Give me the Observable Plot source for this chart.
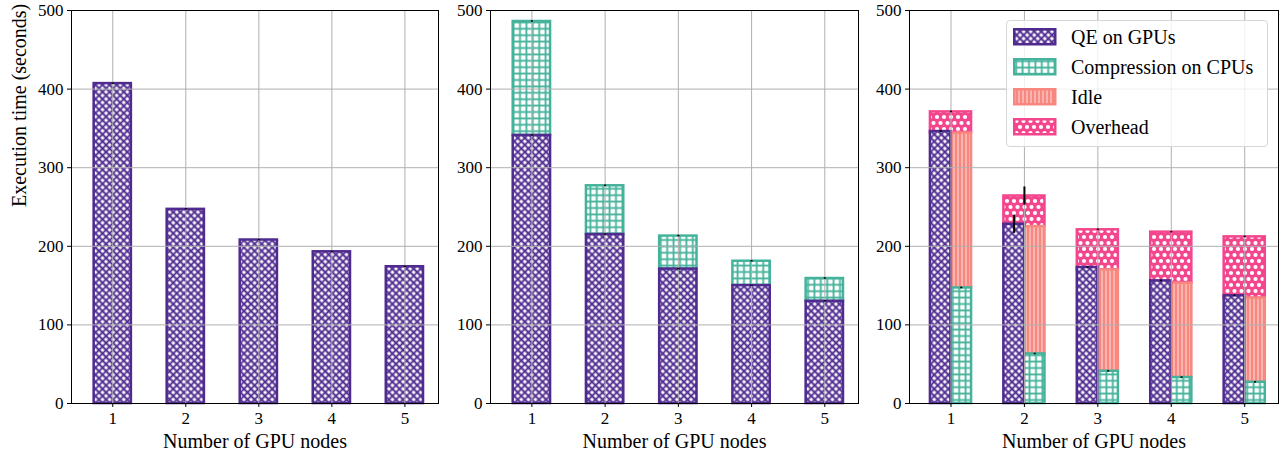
<!DOCTYPE html>
<html>
<head>
<meta charset="utf-8">
<script src="https://cdn.jsdelivr.net/npm/d3@7"></script>
<script src="https://cdn.jsdelivr.net/npm/@observablehq/plot@0.6"></script>
<style>
  body { margin: 0; background: #fff; }
  #wrap { position: relative; width: 1284px; height: 462px; display: flex; align-items: flex-start; }
  #wrap > svg { display: block; flex: none; font-family: "Liberation Serif", serif; }
  .legend {
    position: absolute; left: 1006px; top: 20px; width: 260px; height: 125px;
    border: 1px solid #d6d6d6; border-radius: 4px; background: rgba(255,255,255,0.8);
    font-family: "Liberation Serif", serif; font-size: 20px; color: #000;
  }
  .legend .row { position: absolute; left: 6px; height: 20px; display: flex; align-items: center; white-space: nowrap; }
  .legend .row svg { display: block; margin-right: 14px; }
</style>
</head>
<body>
<!-- hatch fills shared by every panel and the legend -->
<svg width="0" height="0" style="position:absolute">
  <defs>
    <pattern id="hatch-qe" width="5" height="5" patternUnits="userSpaceOnUse" patternTransform="rotate(45)">
      <rect width="5" height="5" fill="#fff"/>
      <path d="M0,2.5H5M2.5,0V5" stroke="#4f2a8f" stroke-width="1.8"/>
    </pattern>
    <pattern id="hatch-comp" width="6.4" height="6.4" patternUnits="userSpaceOnUse">
      <rect width="6.4" height="6.4" fill="#fff"/>
      <path d="M0,3.2H6.4M3.2,0V6.4" stroke="#45b39c" stroke-width="1.8"/>
    </pattern>
    <pattern id="hatch-idle" width="4" height="4" patternUnits="userSpaceOnUse">
      <rect width="4" height="4" fill="#f7877f"/>
      <path d="M2,0V4" stroke="#fff" stroke-width="1" stroke-opacity="0.75"/>
    </pattern>
    <pattern id="hatch-over" width="7" height="12" patternUnits="userSpaceOnUse">
      <rect width="7" height="12" fill="#f3468d"/>
      <circle cx="3.5" cy="3" r="2.1" fill="#fff"/>
      <circle cx="0" cy="9" r="2.1" fill="#fff"/>
      <circle cx="7" cy="9" r="2.1" fill="#fff"/>
    </pattern>
  </defs>
</svg>
<div id="wrap"></div>
<script>
// Number of GPU nodes on every x axis
const nodes = [1, 2, 3, 4, 5];
const yTicks = [0, 100, 200, 300, 400, 500];

// Panel 1: QE alone on GPUs
const qeAlone = [407, 247, 208, 193, 174];
const qeAloneErr = [1, 1, 1, 1, 1];

// Panel 2: QE on GPUs followed by compression on CPUs
const qeSerial = [341, 215, 171, 150, 130];
const compSerial = [145, 62, 42, 31, 29];
const qeSerialErr = [1, 1, 1, 1, 1];
const totalSerialErr = [1, 1, 1, 1, 1];

// Panel 3: QE on GPUs concurrent with compression on CPUs
const qeConc = [346, 228, 173, 156, 137];
const compConc = [147, 63, 41, 33, 27];
const idleConc = [197, 162, 129, 120, 107];
const overheadConc = [27, 39, 51, 65, 78];
const qeConcErr = [1, 11.5, 1, 1, 1];
const compConcErr = [1, 1, 1, 1, 1];
const totalConcErr = [1, 11.5, 1, 1, 1];

const legendLabels = ["QE on GPUs", "Compression on CPUs", "Idle", "Overhead"];
const xLabel = "Number of GPU nodes";
const yLabel = "Execution time (seconds)";

const FONT = '"Liberation Serif", serif';
const C = { qe: "#4f2a8f", comp: "#45b39c", idle: "#f7877f", over: "#f3468d" };
const F = { qe: "url(#hatch-qe)", comp: "url(#hatch-comp)", idle: "url(#hatch-idle)", over: "url(#hatch-over)" };
const SW = 2.5;

function base(width, ml, mr, marks, withYLabel) {
  return Plot.plot({
    width, height: 462,
    marginLeft: ml, marginRight: mr, marginTop: 10, marginBottom: 59,
    x: { domain: [0.435, 5.46] },
    y: { domain: [0, 500] },
    style: { fontFamily: FONT, fontSize: "17px", color: "#000", background: "#fff", overflow: "visible" },
    marks: [
      ...marks.bars,
      Plot.gridX(nodes, { stroke: "#b0b0b0", strokeOpacity: 1, strokeWidth: 1 }),
      Plot.gridY(yTicks, { stroke: "#b0b0b0", strokeOpacity: 1, strokeWidth: 1 }),
      ...marks.errors,
      Plot.axisX(nodes, { tickSize: 4, tickPadding: 4, label: null, tickFormat: d => String(d), fontFamily: FONT, fontSize: 17, fontVariant: "normal" }),
      Plot.axisY(yTicks, { tickSize: 4, tickPadding: 4, label: null, fontFamily: FONT, fontSize: 17, fontVariant: "normal" }),
      Plot.frame({ stroke: "#000", strokeWidth: 1 }),
      Plot.text([xLabel], { text: d => d, frameAnchor: "bottom", dy: 44, fontSize: 20, fontFamily: FONT }),
      ...(withYLabel ? [Plot.text([yLabel], { text: d => d, frameAnchor: "left", rotate: -90, dx: -52, fontSize: 20, fontFamily: FONT })] : [])
    ]
  });
}

const errRule = (data, x, lo, hi) =>
  Plot.ruleX(data, { x, y1: lo, y2: hi, stroke: "#000", strokeWidth: 2 });

// Panel 1
const hw = 0.255;
const rows1 = nodes.map((n, i) => ({ n, qe: qeAlone[i], e: qeAloneErr[i] }));
const p1 = base(440, 71, 2, {
  bars: [
    Plot.rectY(rows1, { x1: d => d.n - hw, x2: d => d.n + hw, y1: d => 0, y2: "qe", fill: F.qe, stroke: C.qe, strokeWidth: SW })
  ],
  errors: [errRule(rows1, "n", d => d.qe - d.e, d => d.qe + d.e)]
}, true);

// Panel 2
const rows2 = nodes.map((n, i) => ({ n, qe: qeSerial[i], comp: compSerial[i], eq: qeSerialErr[i], et: totalSerialErr[i] }));
const p2 = base(420, 50, 2, {
  bars: [
    Plot.rectY(rows2, { x1: d => d.n - hw, x2: d => d.n + hw, y1: "qe", y2: d => d.qe + d.comp, fill: F.comp, stroke: C.comp, strokeWidth: SW }),
    Plot.rectY(rows2, { x1: d => d.n - hw, x2: d => d.n + hw, y1: d => 0, y2: "qe", fill: F.qe, stroke: C.qe, strokeWidth: SW })
  ],
  errors: [
    errRule(rows2, "n", d => d.qe - d.eq, d => d.qe + d.eq),
    errRule(rows2, "n", d => d.qe + d.comp - d.et, d => d.qe + d.comp + d.et)
  ]
}, false);

// Panel 3: GPU bar on the left of each tick, CPU bar on the right, overhead across both
const w = 0.28;
const rows3 = nodes.map((n, i) => ({
  n, qe: qeConc[i], comp: compConc[i], idle: idleConc[i], over: overheadConc[i],
  eq: qeConcErr[i], ec: compConcErr[i], et: totalConcErr[i]
}));
const cpuTop = d => d.comp + d.idle;
const total = d => d.comp + d.idle + d.over;
const p3 = base(424, 49, 6, {
  bars: [
    Plot.rectY(rows3, { x1: d => d.n - w, x2: d => d.n + w, y1: cpuTop, y2: total, fill: F.over, stroke: C.over, strokeWidth: SW }),
    Plot.rectY(rows3, { x1: d => d.n, x2: d => d.n + w, y1: "comp", y2: cpuTop, fill: F.idle, stroke: C.idle, strokeWidth: SW }),
    Plot.rectY(rows3, { x1: d => d.n, x2: d => d.n + w, y1: d => 0, y2: "comp", fill: F.comp, stroke: C.comp, strokeWidth: SW }),
    Plot.rectY(rows3, { x1: d => d.n - w, x2: d => d.n, y1: d => 0, y2: "qe", fill: F.qe, stroke: C.qe, strokeWidth: SW })
  ],
  errors: [
    errRule(rows3, d => d.n - w / 2, d => d.qe - d.eq, d => d.qe + d.eq),
    errRule(rows3, d => d.n + w / 2, d => d.comp - d.ec, d => d.comp + d.ec),
    errRule(rows3, "n", d => total(d) - d.et, d => total(d) + d.et)
  ]
}, false);

const wrap = document.getElementById("wrap");
wrap.append(p1, p2, p3);

// Legend for the concurrent panel
const legend = document.createElement("div");
legend.className = "legend";
const keys = ["qe", "comp", "idle", "over"];
legendLabels.forEach((label, i) => {
  const row = document.createElement("div");
  row.className = "row";
  row.style.top = (6 + i * 30) + "px";
  const k = keys[i];
  row.innerHTML = `<svg width="44" height="18"><rect x="1.25" y="1.25" width="41" height="15" fill="${F[k]}" stroke="${C[k]}" stroke-width="${SW}"/></svg><span>${label}</span>`;
  legend.append(row);
});
wrap.append(legend);
</script>
</body>
</html>
